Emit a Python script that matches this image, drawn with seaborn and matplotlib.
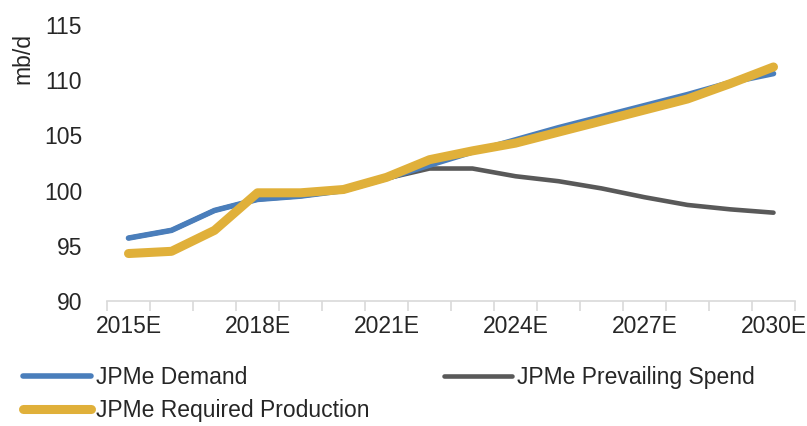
import matplotlib
matplotlib.use("Agg")
import matplotlib.pyplot as plt
import seaborn as sns
import pandas as pd
from matplotlib.lines import Line2D

years = ["2015E", "2016E", "2017E", "2018E", "2019E", "2020E", "2021E", "2022E",
         "2023E", "2024E", "2025E", "2026E", "2027E", "2028E", "2029E", "2030E"]
demand = [95.7, 96.4, 98.2, 99.2, 99.5, 100.0, 101.1, 102.3, 103.5, 104.6, 105.7,
          106.7, 107.7, 108.7, 109.8, 110.6]
prevailing = [95.7, 96.4, 98.2, 99.2, 99.5, 100.0, 101.1, 102.0, 102.0, 101.3, 100.85,
              100.2, 99.4, 98.7, 98.3, 98.0]
required = [94.3, 94.5, 96.4, 99.8, 99.8, 100.1, 101.2, 102.8, 103.6, 104.3, 105.3,
            106.3, 107.3, 108.3, 109.7, 111.2]
series_names = ["JPMe Demand", "JPMe Prevailing Spend", "JPMe Required Production"]
yticks = [90, 95, 100, 105, 110, 115]

colors = ["#4A7EBB", "#595959", "#E0B03A"]
widths = [4.0, 3.3, 6.5]
draw_order = [1, 0, 2]

sns.set_theme(style="white")
fam = ["Liberation Sans Narrow", "Liberation Sans", "DejaVu Sans"]
plt.rcParams["font.family"] = fam
FS = 16.5

fig = plt.figure(figsize=(8.07, 4.26), dpi=100)
ax = fig.add_axes([107/807, 1 - 301/426, (795-107)/807, (301-25)/426])

idx = list(range(len(years)))
all_vals = [demand, prevailing, required]
for k in draw_order:
    df = pd.DataFrame({"x": idx, "y": all_vals[k]})
    sns.lineplot(data=df, x="x", y="y", ax=ax, color=colors[k], linewidth=widths[k],
                 solid_capstyle="round", solid_joinstyle="round")

ax.set_xlim(-0.5, len(years) - 0.5)
ax.set_ylim(90, 115)
ax.set_yticks(yticks)
ax.set_yticklabels([str(v) for v in yticks], fontsize=FS, color="#262626")
ax.tick_params(axis="y", length=0, pad=18)
ax.set_xticks(idx[::3])
ax.set_xticklabels(years[::3], fontsize=FS, color="#262626")
ax.set_xticks([i - 0.5 for i in range(len(years) + 1)], minor=True)
ax.tick_params(axis="x", which="major", length=0, pad=10)
ax.tick_params(axis="x", which="minor", length=7, width=1.2, color="#D9D9D9", bottom=True)
ax.set_xlabel("")
ax.set_ylabel("")
for s in ["top", "right", "left"]:
    ax.spines[s].set_visible(False)
ax.spines["bottom"].set_color("#D9D9D9")
ax.spines["bottom"].set_linewidth(1.2)

fig.text(23/807, 1 - 59/426, "mb/d", rotation=90, ha="center", va="center",
         fontsize=16.5, color="#262626")

h = [Line2D([], [], color=c, linewidth=w, solid_capstyle="round") for c, w in zip(colors, widths)]
leg1 = fig.legend([h[0], h[2]], [series_names[0], series_names[2]], loc="upper left",
                  bbox_to_anchor=(18/807, 1 - 361/426), frameon=False, fontsize=FS,
                  handlelength=3.0, handletextpad=0.2, labelspacing=0.45, borderaxespad=0,
                  borderpad=0.2)
for t in leg1.get_texts():
    t.set_color("#262626")
leg2 = fig.legend([h[1]], [series_names[1]], loc="upper left",
                  bbox_to_anchor=(439/807, 1 - 361/426), frameon=False, fontsize=FS,
                  handlelength=3.0, handletextpad=0.2, borderaxespad=0, borderpad=0.2)
for t in leg2.get_texts():
    t.set_color("#262626")

fig.savefig("out.png", dpi=100)
